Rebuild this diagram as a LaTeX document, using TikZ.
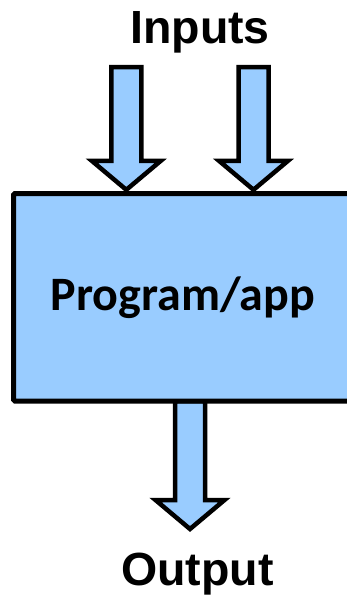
\documentclass[tikz,border=0pt]{standalone}
\usepackage{fontspec}
\setmainfont{Liberation Sans}
\newfontfamily\calibrifont{Carlito}
\usetikzlibrary{calc,positioning}
\definecolor{progblue}{HTML}{99CCFF}
\newcommand{\shafthalf}{15}
\newcommand{\headhalf}{34.5}
\newcommand{\headlen}{29}
% fat block arrow from #1 (shaft top) down to #2 (tip)
\newcommand{\blockarrow}[2]{%
  \draw[fatarrow] ($(#1)+(-\shafthalf,0)$) -- ($(#2)+(-\shafthalf,-\headlen)$)
    -- ($(#2)+(-\headhalf,-\headlen)$) -- (#2) -- ($(#2)+(\headhalf,-\headlen)$)
    -- ($(#2)+(\shafthalf,-\headlen)$) -- ($(#1)+(\shafthalf,0)$) -- cycle;}
\begin{document}
\begin{tikzpicture}[x=1pt,y=-1pt]
    \tikzset{fatarrow/.style={fill=progblue,draw=black,line width=4.5pt,miter limit=10},
             progbox/.style={fill=progblue,draw=black,line width=5pt,rounded corners=1.5pt,
                             font=\calibrifont\bfseries\fontsize{48}{52}\selectfont},
             caption/.style={font=\bfseries\fontsize{46.5}{50}\selectfont,anchor=base,inner sep=0pt}}
    \useasboundingbox (0,0) rectangle (347,595);
    \node[caption] (inputs) at (200,43) {Inputs};
    \node[caption] (output) at (197.5,585) {Output};
    \coordinate (in1) at (126.3,67);
    \coordinate (in2) at (253.5,67);
    % box only placed here, drawn after the arrows
    \path (182.75,297.25) node[minimum width=338.5pt,minimum height=207.5pt,inner sep=0pt] (prog) {};
    \coordinate (tip1) at ([yshift=3.5pt]prog.north -| in1);
    \coordinate (tip2) at ([yshift=3.5pt]prog.north -| in2);
    \coordinate (outtop) at (prog.south -| 190,0);
    \coordinate (out) at (190,529);
    \blockarrow{in1}{tip1}
    \blockarrow{in2}{tip2}
    \blockarrow{outtop}{out}
    \node[progbox,minimum width=338.5pt,minimum height=207.5pt] at (prog) {Program/app};
\end{tikzpicture}
\end{document}
